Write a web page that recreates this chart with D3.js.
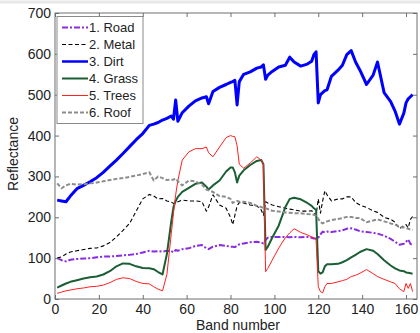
<!DOCTYPE html>
<html>
<head>
<meta charset="utf-8">
<script src="https://cdn.jsdelivr.net/npm/d3@7"></script>
<style>
  html, body { margin: 0; padding: 0; background: #fff; }
  svg { display: block; font-family: Arial, "Liberation Sans", sans-serif; }
</style>
</head>
<body>
<svg id="chart" width="420" height="333"></svg>
<script>
// band positions shared by all series
const bands = [
  1, 3, 5, 7, 10, 13, 16, 19, 22, 25,
  28, 31, 34, 37, 40, 43, 45, 47, 49, 51,
  53, 54, 55, 56, 58, 61, 64, 67, 69, 70,
  72, 75, 78, 80, 81, 82, 83, 84, 86, 89,
  92, 94, 95, 96, 97, 99, 102, 105, 107, 109,
  112, 115, 117, 118, 119, 120, 121, 122, 123, 124,
  126, 129, 131, 133, 135, 137, 139, 142, 145, 147,
  150, 153, 155, 157, 159, 160, 161, 162, 163
];

const road = [
  100, 95, 92, 96, 98, 99, 100, 102, 104, 104,
  105, 107, 108, 110, 114, 118, 116, 117, 116, 118,
  117, 114, 120, 118, 122, 124, 130, 132, 124, 122,
  128, 132, 130, 128, 128, 127, 130, 134, 136, 139,
  140, 138, 136, 145, 150, 152, 152, 152, 151, 152,
  151, 152, 150, 148, 148, 150, 158, 165, 163, 165,
  164, 166, 168, 172, 173, 170, 166, 164, 162, 160,
  155, 147, 140, 133, 135, 140, 146, 135, 132
];

const metal = [
  100, 103, 110, 115, 118, 121, 124, 125, 130, 138,
  152, 168, 185, 215, 245, 256, 252, 245, 246, 240,
  237, 234, 236, 238, 242, 240, 240, 238, 215, 225,
  255, 230, 222, 200, 182, 205, 228, 236, 235, 230,
  228, 218, 205, 238, 235, 230, 226, 222, 220, 218,
  215, 215, 216, 212, 205, 245, 210, 240, 265, 255,
  240, 245, 245, 250, 250, 236, 230, 224, 216, 212,
  200, 195, 188, 172, 180, 182, 174, 195, 202
];

const dirt = [
  242, 240, 238, 252, 270, 278, 287, 297, 310, 325,
  340, 356, 373, 390, 405, 425, 428, 432, 438, 442,
  448, 440, 487, 435, 456, 472, 485, 492, 495, 478,
  508, 518, 525, 530, 532, 535, 475, 532, 550, 556,
  565, 568, 573, 538, 548, 557, 568, 572, 592, 580,
  570, 575, 582, 598, 605, 480, 500, 505, 510, 512,
  545, 560, 572, 598, 608, 580, 560, 525, 548, 580,
  505, 483, 460, 428, 455, 480, 490, 495, 500
];

const grass = [
  28, 33, 38, 42, 46, 50, 53, 55, 60, 68,
  80, 87, 86, 80, 76, 75, 73, 66, 60, 110,
  190, 225, 240, 250, 262, 272, 282, 285, 275, 268,
  278, 290, 312, 322, 322, 310, 285, 302, 315, 328,
  338, 340, 330, 120, 128, 150, 180, 225, 245, 248,
  244, 235, 228, 222, 218, 68, 62, 65, 80, 85,
  85, 86, 90, 95, 102, 108, 115, 122, 118, 110,
  95, 82, 75, 70, 68, 65, 64, 63, 62
];

const trees = [
  14, 17, 20, 22, 25, 27, 30, 31, 34, 40,
  48, 52, 50, 43, 38, 37, 30, 24, 20, 60,
  160, 210, 255, 290, 340, 360, 368, 368, 372, 358,
  348, 372, 395, 400, 398, 397, 375, 330, 320, 333,
  348, 340, 330, 67, 75, 95, 125, 150, 162, 172,
  163, 157, 152, 150, 145, 30, 18, 15, 30, 38,
  38, 42, 45, 48, 55, 58, 63, 72, 62, 55,
  48, 42, 38, 25, 18, 38, 26, 38, 18
];

const roof = [
  283, 271, 278, 282, 280, 281, 283, 285, 288, 291,
  294, 296, 299, 302, 306, 310, 290, 300, 296, 291,
  292, 292, 295, 288, 278, 290, 288, 280, 268, 266,
  262, 252, 250, 245, 235, 238, 240, 238, 238, 235,
  228, 225, 223, 222, 220, 216, 214, 212, 211, 210,
  210, 208, 207, 206, 204, 196, 188, 185, 188, 190,
  193, 196, 198, 201, 201, 198, 198, 188, 192, 195,
  190, 185, 182, 177, 175, 173, 172, 170, 169
];

const seriesNames = ["1. Road", "2. Metal", "3. Dirt", "4. Grass", "5. Trees", "6. Roof"];
const seriesValues = [road, metal, dirt, grass, trees, roof];
const xTicks = [0, 20, 40, 60, 80, 100, 120, 140, 160];
const yTicks = [0, 100, 200, 300, 400, 500, 600, 700];

const styles = [
  { color: "#8a2be2", width: 2, dash: "6,2,2,2" },
  { color: "#000000", width: 1.1, dash: "4,2.5" },
  { color: "#0000ff", width: 3, dash: null },
  { color: "#1b5e34", width: 2, dash: null },
  { color: "#ff2020", width: 1, dash: null },
  { color: "#8c8c8c", width: 2, dash: "4,2" }
];

const svg = d3.select("#chart");
const margin = { top: 13, right: 3, bottom: 34, left: 55 };
const W = 420, H = 333;
const x = d3.scaleLinear().domain([0, 165]).range([margin.left, W - margin.right]);
const y = d3.scaleLinear().domain([0, 700]).range([H - margin.bottom, margin.top]);

// faint frame line at top of figure
svg.append("line")
  .attr("x1", 0).attr("x2", W).attr("y1", 2).attr("y2", 2)
  .attr("stroke", "#e8e8e8").attr("stroke-width", 3);

const lines = svg.append("g");
const line = d3.line()
  .x((d, i) => x(bands[i]))
  .y((d) => y(d));

seriesValues.forEach((vals, k) => {
  lines.append("path")
    .datum(vals)
    .attr("d", line)
    .attr("fill", "none")
    .attr("stroke", styles[k].color)
    .attr("stroke-width", styles[k].width)
    .attr("stroke-linejoin", "round")
    .attr("stroke-dasharray", styles[k].dash);
});

// axes, MATLAB-like box with inward ticks
const axisColor = "#6e6e6e";
const gb = svg.append("g").attr("transform", `translate(0,${y(0)})`)
  .call(d3.axisBottom(x).tickValues(xTicks).tickSizeInner(-4).tickSizeOuter(0).tickPadding(5));
const gt = svg.append("g").attr("transform", `translate(0,${y(700)})`)
  .call(d3.axisTop(x).tickValues(xTicks).tickSizeInner(-4).tickSizeOuter(0).tickFormat(""));
const gl = svg.append("g").attr("transform", `translate(${x(0)},0)`)
  .call(d3.axisLeft(y).tickValues(yTicks).tickSizeInner(-4).tickSizeOuter(0).tickPadding(4));
const gr = svg.append("g").attr("transform", `translate(${x(165)},0)`)
  .call(d3.axisRight(y).tickValues(yTicks).tickSizeInner(-4).tickSizeOuter(0).tickFormat(""));

[gb, gt, gl, gr].forEach((g) => {
  g.select(".domain").remove();
  g.selectAll("line").attr("stroke", axisColor);
  g.selectAll("text").attr("fill", "#222").style("font-size", "14px")
    .style("font-family", "Arial, 'Liberation Sans', sans-serif");
});

svg.append("rect")
  .attr("x", x(0)).attr("y", y(700))
  .attr("width", x(165) - x(0)).attr("height", y(0) - y(700))
  .attr("fill", "none").attr("stroke", axisColor).attr("stroke-width", 1);

svg.append("text")
  .attr("x", 238).attr("y", 330)
  .attr("text-anchor", "middle")
  .attr("font-size", 14).attr("fill", "#222")
  .text("Band number");

svg.append("text")
  .attr("transform", "translate(18,154) rotate(-90)")
  .attr("text-anchor", "middle")
  .attr("font-size", 14).attr("fill", "#222")
  .text("Reflectance");

// legend
const legend = svg.append("g").attr("transform", "translate(57,16.5)");
legend.append("rect")
  .attr("width", 86).attr("height", 107)
  .attr("fill", "#fff").attr("stroke", "#8a8a8a").attr("stroke-width", 1);

const item = legend.selectAll("g.item")
  .data(seriesNames)
  .join("g")
  .attr("class", "item")
  .attr("transform", (d, i) => `translate(0,${11 + i * 17})`);

item.append("line")
  .attr("x1", 5).attr("x2", 31)
  .attr("stroke", (d, i) => styles[i].color)
  .attr("stroke-width", (d, i) => Math.min(styles[i].width, 2.5))
  .attr("stroke-dasharray", (d, i) => styles[i].dash);

item.append("text")
  .attr("x", 32).attr("y", 4.5)
  .attr("font-size", 13).attr("fill", "#222")
  .text((d) => d);
</script>
</body>
</html>
